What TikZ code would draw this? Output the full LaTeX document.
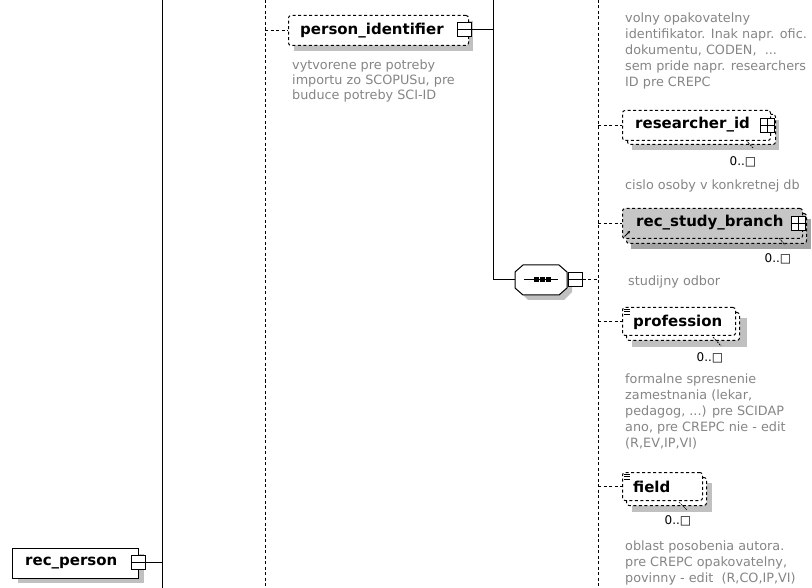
\documentclass[tikz,border=0pt]{standalone}
\usepackage{fontspec}
\setmainfont{DejaVu Sans}
\usetikzlibrary{arrows.meta}
\definecolor{cmtgray}{HTML}{858585}
\definecolor{shadowgray}{HTML}{C0C0C0}
\definecolor{branchgray}{HTML}{C6C6C6}
\tikzset{
  solidline/.style={line width=1pt, black},
  dashline/.style={line width=1pt, black, dash pattern=on 3pt off 2.5pt},
  elbox/.style={draw, line width=1pt, dash pattern=on 3pt off 2.5pt, fill=white, rounded corners=2.5pt, inner sep=0pt, anchor=north west},
  solidbox/.style={draw, line width=1pt, fill=white, inner sep=0pt, anchor=north west},
  shadowfill/.style={fill=shadowgray, draw=none},
  namelabel/.style={font=\fontsize{15}{17}\selectfont\bfseries, inner sep=0pt, anchor=west},
  cmt/.style={font=\fontsize{12.8}{16}\selectfont, text=cmtgray, inner sep=0pt, anchor=north west, align=left},
  mult/.style={font=\fontsize{12}{14}\selectfont, inner sep=0pt},
  pmbox/.style={draw, line width=1pt, fill=white, minimum width=14pt, minimum height=14pt, inner sep=0pt},
  minus/.style={pmbox, path picture={\draw[line width=1pt] (path picture bounding box.west) -- (path picture bounding box.east);}},
  plus/.style={pmbox, path picture={\draw[line width=1pt] (path picture bounding box.west) -- (path picture bounding box.east) (path picture bounding box.north) -- (path picture bounding box.south);}},
  thinline/.style={line width=0.7pt, black, dash pattern=on 2pt off 1pt},
}
\begin{document}
\begin{tikzpicture}[x=1pt,y=-1pt]
\useasboundingbox (0,0) rectangle (812,588);
% vertical guide lines
\coordinate (v1top) at (162,0); \coordinate (v1bot) at (162,588);
\coordinate (v2top) at (265,0); \coordinate (v2bot) at (265,588);
\coordinate (v3top) at (493,0); \coordinate (v3bend) at (493,280);
\coordinate (v4top) at (598,0); \coordinate (v4bot) at (598,588);
\draw[solidline] (v1top) -- (v1bot);
\draw[dashline] (v2top) -- (v2bot);
\draw[dashline] (v4top) -- (v4bot);

% rec_person
\fill[shadowfill] (18,554) rectangle (144,583);
\node[solidbox, minimum width=126pt, minimum height=30pt] (recperson) at (12,548) {};
\node[namelabel] (recpersont) at (25,563) {rec\_person};
\node[minus] (recpersonpm) at (138,562) {};
\draw[solidline] (recpersonpm.east) -- (recpersonpm.east -| v1top);

% person_identifier
\fill[shadowfill] (294,21) rectangle (473,51);
\node[elbox, minimum width=180pt, minimum height=30pt] (pid) at (288,15) {};
\node[namelabel] (pidt) at (300,31) {person\_identifier};
\node[minus] (pidpm) at (464,30) {};
\draw[dashline] (pid.west -| v2top) -- (pid.west);
\draw[solidline] (pidpm.east) -- (pidpm.east -| v3top);
\draw[solidline] (v3top) -- (v3bend);
\node[cmt, font=\fontsize{12.8}{15}\selectfont] (pidc) at (292,59) {\strut vytvorene pre potreby\\importu zo SCOPUSu, pre\\buduce potreby SCI-ID};

% sequence compositor
\fill[shadowfill] (520,278) -- (528,270) -- (564,270) -- (572,278) -- (572,292) -- (564,300) -- (528,300) -- (520,292) -- cycle;
\node[minimum width=52pt, minimum height=30pt, inner sep=0pt] (seq) at (541,280) {};
\draw[line width=1pt, fill=white] (515,272) -- (523,265) -- (559,265) -- (567,272) -- (567,288) -- (559,295) -- (523,295) -- (515,288) -- cycle;
\draw[solidline] (524,280) -- (558,280);
\fill (533.5,277.5) rectangle (538.5,282.5);
\fill (539.5,277.5) rectangle (544.5,282.5);
\fill (545.5,277.5) rectangle (550.5,282.5);
\draw[solidline] (v3bend) -- (seq.west);
\node[minus] (seqpm) at (575,280) {};
\draw[dashline] (seqpm.east) -- (seqpm.east -| v4top);

% right column: first comment
\node[cmt] (c1) at (625,11) {\strut volny opakovatelny\\identifikator. Inak napr. ofic.\\dokumentu, CODEN,\ \ ...\\sem pride napr. researchers\\ID pre CREPC};

% researcher_id
\fill[shadowfill] (632,120) rectangle (779,150);
\node[elbox, minimum width=148pt, minimum height=30pt] (ridback) at (627,114) {};
\node[elbox, minimum width=148pt, minimum height=30pt] (rid) at (622,110) {};
\node[namelabel] (ridt) at (635,125) {researcher\_id};
\node[plus] (ridpm) at (767,126) {};
\draw[dashline] (rid.west -| v4top) -- (rid.west);
\node[mult] (ridm) at (743,162) {0..□};
\draw[thinline] (746,140) -- (753,148);
\node[cmt] (c2) at (625,178) {\strut cislo osoby v konkretnej db};

% rec_study_branch
\fill[shadowgray!85!black] (631,219) rectangle (811,249);
\node[elbox, fill=branchgray, minimum width=180pt, minimum height=30pt] (rsbback) at (626,213) {};
\node[elbox, fill=branchgray, minimum width=180pt, minimum height=30pt] (rsb) at (622,208) {};
\node[namelabel] (rsbt) at (636,223) {rec\_study\_branch};
\node[plus] (rsbpm) at (798,224) {};
\draw[dashline] (rsb.west -| v4top) -- (rsb.west);
\draw[line width=0.8pt, -{Stealth[length=3pt,width=3pt]}] (624.5,236.5) -- (630,231);
\node[mult] (rsbm) at (778,259) {0..□};
\draw[thinline] (779,238) -- (785,245);
\node[cmt] (c3) at (628,274) {\strut studijny odbor};

% profession
\fill[shadowfill] (632,318) rectangle (747,347);
\node[elbox, minimum width=113pt, minimum height=28pt] (profback) at (626,312) {};
\node[elbox, minimum width=113pt, minimum height=28pt] (prof) at (622,307) {};
\node[namelabel] (proft) at (633,322) {profession};
\draw[line width=0.7pt] (624,309) -- (630,309) (624,311.5) -- (630,311.5) (624,314) -- (630,314);
\draw[dashline] (prof.west -| v4top) -- (prof.west);
\node[mult] (profm) at (710,358) {0..□};
\draw[thinline] (713,337) -- (721,346);
\node[cmt] (c4) at (625,372) {\strut formalne spresnenie\\zamestnania (lekar,\\pedagog, ...) pre SCIDAP\\ano, pre CREPC nie - edit\\(R,EV,IP,VI)};

% field
\fill[shadowfill] (632,483) rectangle (712,512);
\node[elbox, minimum width=80pt, minimum height=28pt] (fieldback) at (626,477) {};
\node[elbox, minimum width=80pt, minimum height=28pt] (field) at (622,472) {};
\node[namelabel] (fieldt) at (633,487) {field};
\draw[line width=0.7pt] (624,474) -- (630,474) (624,476.5) -- (630,476.5) (624,479) -- (630,479);
\draw[dashline] (field.west -| v4top) -- (field.west);
\node[mult] (fieldm) at (678,521) {0..□};
\draw[thinline] (679,502) -- (687,510);
\node[cmt] (c5) at (625,539) {\strut oblast posobenia autora.\\pre CREPC opakovatelny,\\povinny - edit\ \ (R,CO,IP,VI)};
\end{tikzpicture}
\end{document}
